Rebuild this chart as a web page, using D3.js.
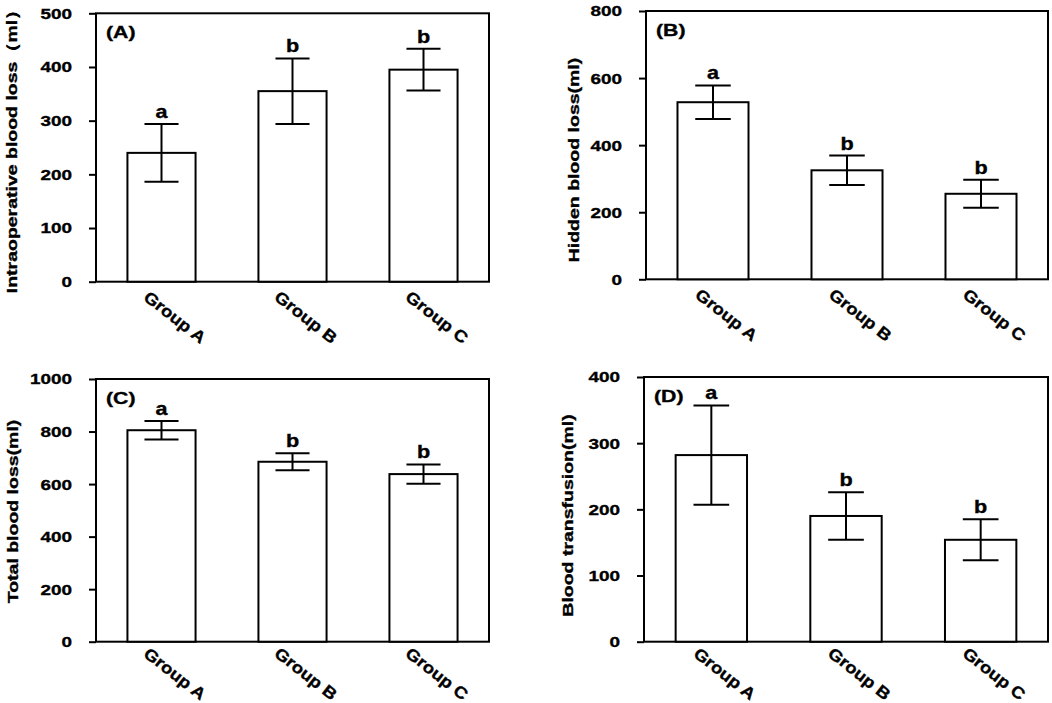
<!DOCTYPE html>
<html>
<head>
<meta charset="utf-8">
<script src="https://cdn.jsdelivr.net/npm/d3@7"></script>
<style>
  body { margin: 0; background: #fff; }
  svg { display: block; }
  text {
    font-family: "Liberation Sans", Arial, sans-serif;
    font-weight: bold;
    fill: #000;
    stroke: #000;
    stroke-width: 0.35px;
  }
</style>
</head>
<body>
<div id="chart"></div>
<script>
// data (mean and error per group)
const groups = ["Group A", "Group B", "Group C"];
const sigLetters = ["a", "b", "b"];

const intraopMean = [240, 355, 395];
const intraopErr = [54, 61, 39];
const intraopTicks = [0, 100, 200, 300, 400, 500];

const hiddenMean = [528, 325, 255];
const hiddenErr = [50, 44, 42];
const hiddenTicks = [0, 200, 400, 600, 800];

const totalMean = [805, 685, 638];
const totalErr = [35, 32, 37];
const totalTicks = [0, 200, 400, 600, 800, 1000];

const transfusionMean = [282, 190, 154];
const transfusionErr = [75, 36, 31];
const transfusionTicks = [0, 100, 200, 300, 400];

const panels = [
  {
    tag: "(A)", title: "Intraoperative blood loss（ml）",
    mean: intraopMean, err: intraopErr, ticks: intraopTicks,
    box: { left: 96, right: 489, top: 13.3, bottom: 281.7 },
    titleX: 12, titleY: 147, pad: 0.48, labelDy: 35.5,
  },
  {
    tag: "(B)", title: "Hidden blood loss(ml)",
    mean: hiddenMean, err: hiddenErr, ticks: hiddenTicks,
    box: { left: 646, right: 1048, top: 11, bottom: 279.3 },
    titleX: 573.5, titleY: 160, pad: 0.47, labelDy: 35.5,
  },
  {
    tag: "(C)", title: "Total blood loss(ml)",
    mean: totalMean, err: totalErr, ticks: totalTicks,
    box: { left: 96, right: 489, top: 379, bottom: 641.7 },
    titleX: 13, titleY: 511.5, pad: 0.48, labelDy: 32,
  },
  {
    tag: "(D)", title: "Blood transfusion(ml)",
    mean: transfusionMean, err: transfusionErr, ticks: transfusionTicks,
    box: { left: 644, right: 1048, top: 377, bottom: 641.7 },
    titleX: 567.5, titleY: 515.5, pad: 0.47, labelDy: 32,
  },
];

const width = 1052;
const height = 703;
const stroke = 2;

const svg = d3
  .select("#chart")
  .append("svg")
  .attr("width", width)
  .attr("height", height)
  .attr("viewBox", [0, 0, width, height]);

panels.forEach((p) => drawPanel(p));

function drawPanel(p) {
  const b = p.box;
  const yMax = p.ticks[p.ticks.length - 1];

  const x = d3
    .scaleBand()
    .domain(groups)
    .range([b.left, b.right])
    .paddingInner(p.pad)
    .paddingOuter(p.pad / 2);

  const y = d3.scaleLinear().domain([0, yMax]).range([b.bottom, b.top]);

  const g = svg.append("g");

  // frame
  g.append("rect")
    .attr("x", b.left)
    .attr("y", b.top)
    .attr("width", b.right - b.left)
    .attr("height", b.bottom - b.top)
    .attr("fill", "none")
    .attr("stroke", "#000")
    .attr("stroke-width", stroke);

  // y axis, ticks outward
  const tickGap = 24;
  const sx = 1.22;
  g.append("g")
    .attr("transform", `translate(${b.left},0)`)
    .call(
      d3
        .axisLeft(y)
        .tickValues(p.ticks)
        .tickFormat(d3.format("d"))
        .tickSize(7)
        .tickPadding(17)
    )
    .call((ax) => ax.select(".domain").remove())
    .call((ax) =>
      ax.selectAll(".tick line").attr("stroke", "#000").attr("stroke-width", stroke)
    )
    .call((ax) =>
      ax
        .selectAll(".tick text")
        .attr("x", -tickGap / sx)
        .attr("transform", `scale(${sx},1)`)
        .style("font-size", "15.5px")
        .style("font-family", null)
    );

  const bw = x.bandwidth();
  const bars = g
    .selectAll(".bar")
    .data(groups.map((k, i) => ({ k, m: p.mean[i], e: p.err[i], s: sigLetters[i] })))
    .join("g")
    .attr("class", "bar");

  bars
    .append("rect")
    .attr("x", (d) => x(d.k))
    .attr("y", (d) => y(d.m))
    .attr("width", bw)
    .attr("height", (d) => b.bottom - y(d.m))
    .attr("fill", "#fff")
    .attr("stroke", "#000")
    .attr("stroke-width", stroke);

  const cx = (d) => x(d.k) + bw / 2;
  const cap = bw / 4;

  bars
    .append("line")
    .attr("x1", cx)
    .attr("x2", cx)
    .attr("y1", (d) => y(d.m - d.e))
    .attr("y2", (d) => y(d.m + d.e));

  bars
    .append("line")
    .attr("x1", (d) => cx(d) - cap)
    .attr("x2", (d) => cx(d) + cap)
    .attr("y1", (d) => y(d.m + d.e))
    .attr("y2", (d) => y(d.m + d.e));

  bars
    .append("line")
    .attr("x1", (d) => cx(d) - cap)
    .attr("x2", (d) => cx(d) + cap)
    .attr("y1", (d) => y(d.m - d.e))
    .attr("y2", (d) => y(d.m - d.e));

  bars.selectAll("line").attr("stroke", "#000").attr("stroke-width", stroke);

  // significance letters
  bars
    .append("text")
    .attr("transform", (d) => `translate(${cx(d)},${y(d.m + d.e) - 6}) scale(1.2,1)`)
    .attr("text-anchor", "middle")
    .style("font-size", "18px")
    .text((d) => d.s);

  // rotated category labels
  bars
    .append("text")
    .attr(
      "transform",
      (d) => `translate(${cx(d) + 13.5},${b.bottom + p.labelDy}) rotate(38) scale(1.12,1)`
    )
    .attr("text-anchor", "middle")
    .attr("dy", "0.35em")
    .style("font-size", "16.5px")
    .text((d) => d.k);

  // panel tag
  g.append("text")
    .attr("transform", `translate(${b.left + 10},${b.top + 25}) scale(1.25,1)`)
    .style("font-size", "17px")
    .text(p.tag);

  // y title
  g.append("text")
    .attr("transform", `translate(${p.titleX},${p.titleY}) rotate(-90) scale(1.3,1)`)
    .attr("text-anchor", "middle")
    .attr("dy", "0.35em")
    .style("font-size", "15px")
    .text(p.title);
}
</script>
</body>
</html>
